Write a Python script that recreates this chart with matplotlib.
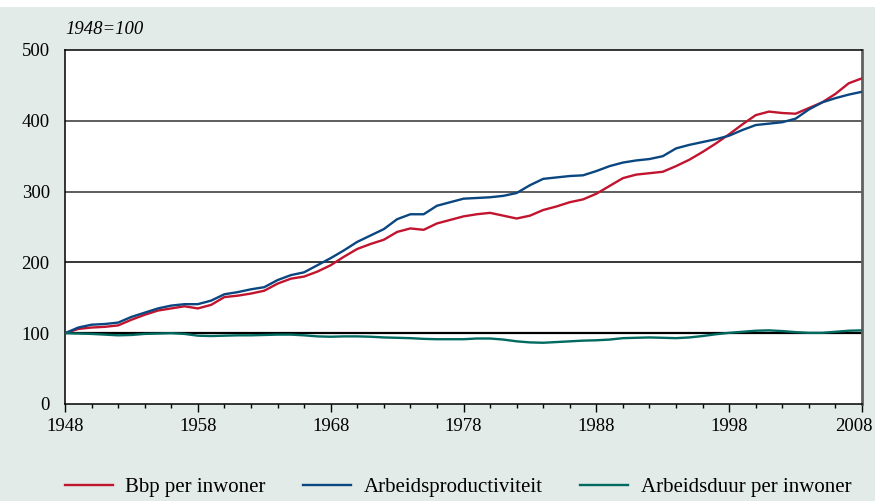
import matplotlib
matplotlib.use("Agg")
import matplotlib.pyplot as plt
import matplotlib.transforms as mtransforms
from matplotlib.patches import Rectangle

years = list(range(1948, 2009))

bbp = [100, 106, 108, 109, 111, 119, 126, 132, 135, 138,
       135, 140, 151, 153, 156, 160, 170, 177, 180, 187,
       196, 208, 219, 226, 232, 243, 248, 246, 255, 260,
       265, 268, 270, 266, 262, 266, 274, 279, 285, 289,
       297, 308, 319, 324, 326, 328, 336, 345, 356, 368,
       381, 395, 408, 413, 411, 410, 418, 426, 438, 453,
       460]

productiviteit = [100, 108, 112, 113, 115, 123, 129, 135, 139, 141,
                  141, 146, 155, 158, 162, 165, 175, 182, 186, 196,
                  206, 217, 229, 238, 247, 261, 268, 268, 280, 285,
                  290, 291, 292, 294, 298, 309, 318, 320, 322, 323,
                  329, 336, 341, 344, 346, 350, 361, 366, 370, 374,
                  379, 387, 394, 396, 398, 403, 416, 426, 432, 437,
                  441]

arbeidsduur = [100, 99.5, 99, 98, 97, 97.5, 99, 99.5, 100, 99,
               96.5, 96, 96.5, 97, 97, 97.5, 98, 98, 97, 95.5,
               95, 95.5, 95.5, 95, 94, 93.5, 93, 92, 91.5, 91.5,
               91.5, 92.5, 92.5, 91, 88.5, 87, 86.5, 87.5, 88.5, 89.5,
               90, 91, 93, 93.5, 94, 93.5, 93, 94, 96, 98.5,
               100.5, 102, 103.5, 104, 103, 101.5, 100.5, 100.5, 102, 103.5,
               104]

labels = ["Bbp per inwoner", "Arbeidsproductiviteit", "Arbeidsduur per inwoner"]
colors = ["#c1142e", "#0a4680", "#006a60"]

plt.rcParams["font.family"] = ["Liberation Serif", "DejaVu Serif"]
bg = "#e2ebe8"

fig = plt.figure(figsize=(8.75, 5.01), dpi=100, facecolor=bg)
# witte strook bovenaan
fig.patches.append(Rectangle((0, 1 - 7 / 501), 1, 7 / 501, transform=fig.transFigure,
                             facecolor="white", edgecolor="none"))

ax = fig.add_axes([65 / 875, 97 / 501, 797 / 875, 354 / 501])
ax.set_facecolor("white")

# horizontale lijnen
ax.axhline(100, color="black", lw=1.6, zorder=2)
ax.axhline(200, color="black", lw=1.1, zorder=1)
for v in (300, 400):
    ax.axhline(v, color="#505050", lw=1.3, zorder=1)

handles = []
for series, lab, c in zip([bbp, productiviteit, arbeidsduur], labels, colors):
    h, = ax.plot(years, series, color=c, lw=1.7, label=lab, zorder=3,
                 solid_joinstyle="round")
    handles.append(h)

ax.set_xlim(1948, 2008)
ax.set_ylim(0, 500)
ax.set_xticks(range(1948, 2009, 10))
ax.set_xticks(range(1948, 2009, 2), minor=True)
ax.set_yticks(range(0, 501, 100))
ax.tick_params(axis="y", length=0, pad=11, labelsize=13.5)
ax.tick_params(axis="x", which="major", length=6, width=1, pad=4, labelsize=13.5)
ax.tick_params(axis="x", which="minor", length=3, width=1)

# laatste jaartal iets naar links zodat het binnen het beeld valt
fig.canvas.draw()
last = ax.get_xticklabels()[-1]
last.set_transform(last.get_transform() +
                   mtransforms.ScaledTranslation(-8 / 100, 0, fig.dpi_scale_trans))

for s in ("left", "bottom", "top"):
    ax.spines[s].set_color("black")
    ax.spines[s].set_linewidth(1.1)
ax.spines["right"].set_color("#606060")
ax.spines["right"].set_linewidth(2)

fig.text(65 / 875, 1 - 30 / 501, "1948=100", style="italic", fontsize=13.5,
         ha="left", va="center")

fig.legend(handles=handles, loc="center left", bbox_to_anchor=(65 / 875, 14 / 501),
           ncol=3, frameon=False, fontsize=15, handlelength=2.3,
           handletextpad=0.6, columnspacing=1.8, borderpad=0, borderaxespad=0)

fig.savefig("out.png", dpi=100, facecolor=bg)
